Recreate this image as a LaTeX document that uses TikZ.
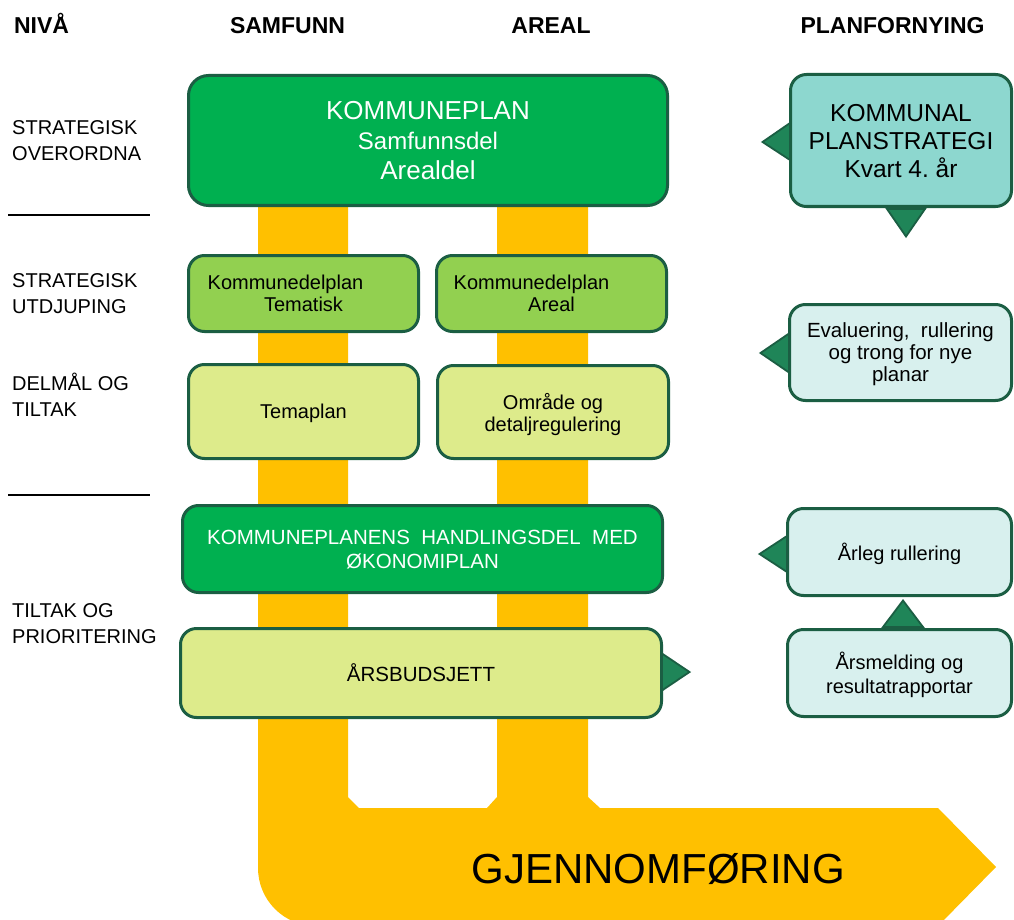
\documentclass[tikz,border=0pt]{standalone}
\usepackage{fontspec}
\setmainfont{Liberation Sans}
\usetikzlibrary{calc}
\definecolor{bord}{HTML}{1B5E43}
\definecolor{gmain}{HTML}{00B050}
\definecolor{glight}{HTML}{92D050}
\definecolor{gpale}{HTML}{DDEB8B}
\definecolor{tealA}{HTML}{8DD7CF}
\definecolor{tealB}{HTML}{D8F0EE}
\definecolor{ptrfill}{HTML}{1F8558}
\definecolor{band}{HTML}{FFC000}
\frenchspacing
\begin{document}
\begin{tikzpicture}[x=1pt,y=-1pt,
  box/.style={draw=bord, line width=3pt, rounded corners=16pt, align=center, inner sep=0pt, text depth=0pt},
  ptr/.style={draw=bord, fill=ptrfill, line width=1.8pt, line join=miter},
  hdr/.style={font=\fontsize{23}{26}\selectfont\bfseries, inner sep=0pt, anchor=base},
  lvl/.style={font=\fontsize{20}{26}\selectfont, inner sep=0pt, anchor=base west},
  sep/.style={line width=1.6pt, black}]
\useasboundingbox (0,0) rectangle (1014,920);
% yellow band
\fill[band] (258,150) -- (348,150) -- (348,797) -- (359,808) -- (487,808) -- (497,797)
  -- (497,150) -- (588,150) -- (588,797) -- (600,808) -- (938,808) -- (996,867)
  -- (938,926) [rounded corners=58pt] -- (258,926) -- (258,700) [sharp corners] -- cycle;
\node[font=\fontsize{42}{46}\selectfont, inner sep=0pt, anchor=base] (gjen) at (658,883) {GJENNOMFØRING};
% headers
\node[hdr] (hniva) at (41.5,34) {NIVÅ};
\node[hdr] (hsam) at (287.5,34) {SAMFUNN};
\node[hdr] (hareal) at (551,34) {AREAL};
\node[hdr] (hplan) at (892.5,34) {PLANFORNYING};
% level labels
\node[lvl] (l1a) at (12,135) {STRATEGISK};
\node[lvl] (l1b) at (12,161) {OVERORDNA};
\node[lvl] (l2a) at (12,287) {STRATEGISK};
\node[lvl] (l2b) at (12,313) {UTDJUPING};
\node[lvl] (l3a) at (12,390) {DELMÅL OG};
\node[lvl] (l3b) at (12,416) {TILTAK};
\node[lvl] (l4a) at (12,617) {TILTAK OG};
\node[lvl] (l4b) at (12,643) {PRIORITERING};
\coordinate (s1a) at (8,215); \coordinate (s1b) at (150,215);
\coordinate (s2a) at (8,495); \coordinate (s2b) at (150,495);
\draw[sep] (s1a) -- (s1b);
\draw[sep] (s2a) -- (s2b);
% boxes
\node[box, fill=gmain, text=white, minimum width=479pt, minimum height=130pt, rounded corners=20pt,
  font=\fontsize{26}{30}\selectfont] (kp) at (428,140.5)
  {KOMMUNEPLAN\\\fontsize{24}{30}\selectfont Samfunnsdel\\Arealdel};
\node[box, fill=glight, minimum width=230pt, minimum height=76pt, font=\fontsize{20}{22}\selectfont]
  (kdt) at (303.5,293.5) {Kommunedelplan\hspace*{36pt}\\Tematisk};
\node[box, fill=glight, minimum width=230pt, minimum height=76pt, font=\fontsize{20}{22}\selectfont]
  (kda) at (551.5,293.5) {Kommunedelplan\hspace*{40pt}\\Areal};
\node[box, fill=gpale, minimum width=230pt, minimum height=94pt, font=\fontsize{20}{22}\selectfont]
  (tema) at (303.5,411.5) {Temaplan};
\node[box, fill=gpale, minimum width=231pt, minimum height=93pt, font=\fontsize{20}{22}\selectfont]
  (omr) at (553,412) {Område og\\detaljregulering};
\node[box, fill=gmain, text=white, minimum width=480pt, minimum height=87pt, font=\fontsize{20.5}{24}\selectfont]
  (hand) at (422.5,549) {KOMMUNEPLANENS\ \ HANDLINGSDEL\ \ MED\\ØKONOMIPLAN};
\node[box, fill=gpale, minimum width=481pt, minimum height=89pt, font=\fontsize{20.5}{24}\selectfont]
  (bud) at (421,673) {ÅRSBUDSJETT};
\node[box, fill=tealA, minimum width=221pt, minimum height=132pt, font=\fontsize{24.5}{28}\selectfont]
  (kps) at (901,140.5) {KOMMUNAL\\PLANSTRATEGI\\Kvart 4. år};
\node[box, fill=tealB, minimum width=222pt, minimum height=96pt, font=\fontsize{20.5}{22}\selectfont]
  (eval) at (900.5,352.5) {Evaluering,\ \ rullering\\og trong for nye\\planar};
\node[box, fill=tealB, minimum width=224pt, minimum height=87pt, font=\fontsize{20}{24}\selectfont]
  (arl) at (899.5,552) {Årleg rullering};
\node[box, fill=tealB, minimum width=224pt, minimum height=87pt, font=\fontsize{20}{24}\selectfont]
  (arsm) at (899.5,673) {Årsmelding og\\resultatrapportar};
% pointers
\draw[ptr] ($(kps.west)+(1,-17.5)$) -- ($(kps.west)+(-26.5,1.5)$) -- ($(kps.west)+(1,19.5)$) -- cycle;
\draw[ptr] ($(kps.south)+(-14,1)$) -- ($(kps.south)+(5,28.5)$) -- ($(kps.south)+(24,1)$) -- cycle;
\draw[ptr] ($(eval.west)+(1,-19)$) -- ($(eval.west)+(-27.5,0.5)$) -- ($(eval.west)+(1,20)$) -- cycle;
\draw[ptr] ($(arl.west)+(1,-16)$) -- ($(arl.west)+(-26.5,2)$) -- ($(arl.west)+(1,20)$) -- cycle;
\draw[ptr] ($(arsm.north)+(-16.5,-1)$) -- ($(arsm.north)+(3.5,-27.5)$) -- ($(arsm.north)+(23.5,-1)$) -- cycle;
\draw[ptr] ($(bud.east)+(-1,-19.5)$) -- ($(bud.east)+(26.5,-1)$) -- ($(bud.east)+(-1,17.5)$) -- cycle;
\end{tikzpicture}
\end{document}
